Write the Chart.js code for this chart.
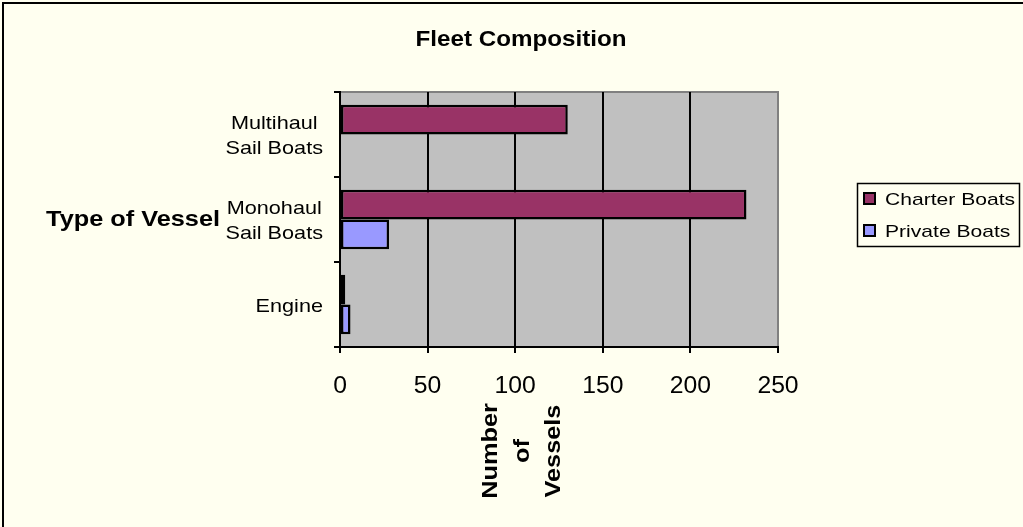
<!DOCTYPE html>
<html>
<head>
<meta charset="UTF-8">
<title>Fleet Composition</title>
<style>
  html, body { margin: 0; padding: 0; background: #fffff0; }
  canvas { display: block; }
</style>
</head>
<body>
<canvas id="fleetChart" width="1023" height="527"></canvas>
<script src="https://cdn.jsdelivr.net/npm/chart.js@4"></script>
<script>
const vesselTypes = [['Multihaul', 'Sail Boats'], ['Monohaul', 'Sail Boats'], ['Engine']];
const charterBoats = [130, 232, 3];
const privateBoats = [null, 28, 6];
const xTicks = [0, 50, 100, 150, 200, 250];
const seriesNames = ['Charter Boats', 'Private Boats'];
const seriesColors = ['#993366', '#9999ff'];

const FONT = '"Liberation Sans", Arial, sans-serif';

// old excel fonts run wide, so stretch the text sideways a bit
function wideText(ctx, text, x, y, font, sx, align) {
  ctx.save();
  ctx.font = font;
  const w = ctx.measureText(text).width * sx;
  let left = x;
  if (align === 'center') left = x - w / 2;
  else if (align === 'right') left = x - w;
  ctx.translate(left, y);
  ctx.scale(sx, 1);
  ctx.textAlign = 'left';
  ctx.textBaseline = 'alphabetic';
  ctx.fillStyle = '#000';
  ctx.fillText(text, 0, 0);
  ctx.restore();
  return w;
}

function textWidth(ctx, text, font, sx) {
  ctx.save();
  ctx.font = font;
  const w = ctx.measureText(text).width * sx;
  ctx.restore();
  return w;
}

const excelLook = {
  id: 'excelLook',
  beforeDraw(chart) {
    const { ctx, chartArea: a } = chart;
    ctx.save();
    ctx.fillStyle = '#fffff0';
    ctx.fillRect(0, 0, chart.width, chart.height);

    // outer frame (only top/left survive the crop)
    ctx.strokeStyle = '#000';
    ctx.lineWidth = 2;
    ctx.beginPath();
    ctx.moveTo(3, chart.height + 5);
    ctx.lineTo(3, 3);
    ctx.lineTo(chart.width + 5, 3);
    ctx.stroke();

    // plot area
    ctx.fillStyle = '#c0c0c0';
    ctx.fillRect(a.left, a.top, a.right - a.left, a.bottom - a.top);
    ctx.strokeStyle = '#808080';
    ctx.lineWidth = 2;
    ctx.strokeRect(a.left, a.top, a.right - a.left, a.bottom - a.top);
    ctx.restore();
  },
  afterDraw(chart) {
    const { ctx } = chart;
    const xs = chart.scales.x;
    const ys = chart.scales.y;

    wideText(ctx, 'Fleet Composition', 521, 46, 'bold 22px ' + FONT, 1.1, 'center');
    wideText(ctx, 'Type of Vessel', 220, 226, 'bold 22px ' + FONT, 1.15, 'right');

    // category labels, centred block ending at the axis
    const tickFont = '19px ' + FONT;
    chart.data.labels.forEach((lines, i) => {
      const cy = ys.getPixelForValue(i);
      const maxW = Math.max(...lines.map(l => textWidth(ctx, l, tickFont, 1.14)));
      const cx = 323 - maxW / 2;
      lines.forEach((line, j) => {
        const by = cy - (lines.length - 1) * 12.5 + j * 25 + 7;
        wideText(ctx, line, cx, by, tickFont, 1.14, 'center');
      });
    });

    // value axis labels
    xs.ticks.forEach(t => {
      wideText(ctx, String(t.value), xs.getPixelForValue(t.value), 393, '24px ' + FONT, 1.03, 'center');
    });

    // rotated axis title, one word per line
    const words = ['Number', 'of', 'Vessels'];
    const baseX = [497, 528.5, 560];
    words.forEach((w, i) => {
      ctx.save();
      ctx.translate(baseX[i], 451);
      ctx.rotate(-Math.PI / 2);
      wideText(ctx, w, 0, 0, 'bold 22px ' + FONT, 1.15, 'center');
      ctx.restore();
    });

    // legend
    ctx.save();
    ctx.strokeStyle = '#000';
    ctx.lineWidth = 1.5;
    ctx.strokeRect(857.5, 183.5, 162, 63);
    seriesNames.forEach((name, i) => {
      const top = 193 + i * 32;
      ctx.fillStyle = seriesColors[i];
      ctx.fillRect(864, top, 11, 11);
      ctx.lineWidth = 2;
      ctx.strokeRect(864, top, 11, 11);
      wideText(ctx, name, 885, top + 11.5, '17px ' + FONT, 1.24, 'left');
    });
    ctx.restore();
  }
};

new Chart(document.getElementById('fleetChart'), {
  type: 'bar',
  data: {
    labels: vesselTypes,
    datasets: [
      {
        label: seriesNames[0],
        data: charterBoats,
        backgroundColor: seriesColors[0],
        borderColor: '#000',
        borderWidth: 2.5,
        borderSkipped: false
      },
      {
        label: seriesNames[1],
        data: privateBoats,
        backgroundColor: seriesColors[1],
        borderColor: '#000',
        borderWidth: 2.5,
        borderSkipped: false
      }
    ]
  },
  options: {
    indexAxis: 'y',
    responsive: false,
    animation: false,
    categoryPercentage: 0.7,
    barPercentage: 1,
    layout: { padding: { left: 0, right: 245, top: 92, bottom: 0 } },
    plugins: {
      legend: { display: false },
      title: { display: false },
      tooltip: { enabled: false }
    },
    scales: {
      x: {
        min: xTicks[0],
        max: xTicks[xTicks.length - 1],
        ticks: { stepSize: xTicks[1] - xTicks[0], color: 'rgba(0,0,0,0)' },
        grid: {
          color: c => (c.tick && c.tick.value === xTicks[xTicks.length - 1]) ? '#808080' : '#000',
          tickColor: '#000',
          lineWidth: 2,
          tickLength: 6
        },
        border: { color: '#000', width: 2 },
        afterFit(scale) { scale.height = 180; }
      },
      y: {
        ticks: { color: 'rgba(0,0,0,0)' },
        grid: {
          drawOnChartArea: false,
          color: '#000',
          lineWidth: 2,
          tickLength: 6
        },
        border: { color: '#000', width: 2 },
        afterFit(scale) { scale.width = 340; }
      }
    }
  },
  plugins: [excelLook]
});
</script>
</body>
</html>
